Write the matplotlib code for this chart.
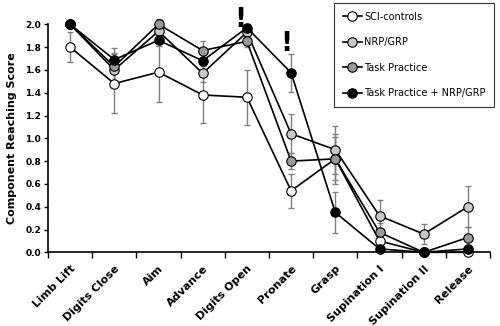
import matplotlib
matplotlib.use("Agg")
import matplotlib.pyplot as plt
import numpy as np
from matplotlib.ticker import FixedLocator, NullFormatter

categories = ["Limb Lift", "Digits Close", "Aim", "Advance", "Digits Open",
              "Pronate", "Grasp", "Supination I", "Supination II", "Release"]

sci_controls = [1.80, 1.48, 1.58, 1.38, 1.36, 0.54, 0.82, 0.10, 0.00, 0.00]
sci_err = [0.13, 0.26, 0.26, 0.25, 0.24, 0.15, 0.19, 0.05, 0.00, 0.00]

nrp_grp = [2.00, 1.60, 1.94, 1.57, 1.93, 1.04, 0.90, 0.32, 0.16, 0.40]
nrp_err = [0.00, 0.10, 0.05, 0.08, 0.05, 0.17, 0.21, 0.14, 0.09, 0.18]

task = [2.00, 1.63, 2.00, 1.77, 1.85, 0.80, 0.82, 0.175, 0.00, 0.13]
task_err = [0.00, 0.12, 0.05, 0.08, 0.05, 0.07, 0.22, 0.08, 0.00, 0.09]

combo = [2.00, 1.69, 1.86, 1.68, 1.97, 1.575, 0.35, 0.03, 0.00, 0.03]
combo_err = [0.00, 0.10, 0.05, 0.08, 0.03, 0.165, 0.18, 0.03, 0.00, 0.03]

series_names = ["SCI-controls", "NRP/GRP", "Task Practice", "Task Practice + NRP/GRP"]
series_colors = ["white", "#c8c8c8", "#999999", "black"]

plt.rcParams['font.family'] = ['DejaVu Sans']

fig = plt.figure(figsize=(5.0, 3.26), dpi=100)
ax = fig.add_axes([0.096, 0.226, 0.884, 0.6995])

x = np.arange(len(categories))
all_vals = [sci_controls, nrp_grp, task, combo]
all_errs = [sci_err, nrp_err, task_err, combo_err]
handles = []
for vals, errs, col, name in zip(all_vals, all_errs, series_colors, series_names):
    ax.errorbar(x, vals, yerr=errs, fmt='none', ecolor='#808080', elinewidth=1.0,
                capsize=2.5, capthick=1.0, clip_on=False, zorder=2)
    h, = ax.plot(x, vals, '-o', color='black', lw=1.2, markersize=6.8,
                 markerfacecolor=col, markeredgecolor='black', markeredgewidth=0.8,
                 clip_on=False, zorder=3, label=name)
    handles.append(h)

ax.set_xlim(-0.5, 9.5)
ax.set_ylim(0, 2.0)
ax.set_yticks(np.arange(0, 2.01, 0.2))
ax.set_yticklabels([f"{v:.1f}" for v in np.arange(0, 2.01, 0.2)],
                   fontsize=6.5, fontweight='bold')
ax.xaxis.set_major_locator(FixedLocator(np.arange(-0.5, 9.6, 1.0)))
ax.xaxis.set_major_formatter(NullFormatter())
ax.xaxis.set_minor_locator(FixedLocator(x))
ax.set_xticklabels(categories, minor=True, rotation=45, ha='right',
                   rotation_mode='anchor', fontsize=8, fontweight='bold')
ax.tick_params(axis='x', which='minor', length=0, pad=8)
ax.tick_params(axis='x', which='major', length=4, width=1, direction='out')
ax.tick_params(axis='y', length=3, width=1, direction='out', pad=2)
for s in ['top', 'right']:
    ax.spines[s].set_visible(False)
for s in ['left', 'bottom']:
    ax.spines[s].set_linewidth(1.2)

ax.set_ylabel("Component Reaching Score", fontsize=8, fontweight='bold', labelpad=6)

ax.text(3.84, 1.975, "!", fontsize=19, fontweight='bold', ha='center', va='baseline')
ax.text(4.89, 1.77, "!", fontsize=19, fontweight='bold', ha='center', va='baseline')

leg = fig.legend(handles=handles, loc='upper left',
                 bbox_to_anchor=(334/500, 1 - 3/326), fontsize=7,
                 frameon=True, fancybox=False, edgecolor='black',
                 labelspacing=1.6, handlelength=2.0, handletextpad=0.2,
                 borderpad=0.9, borderaxespad=0)
leg.get_frame().set_linewidth(0.8)

fig.savefig("out.png", dpi=100)
